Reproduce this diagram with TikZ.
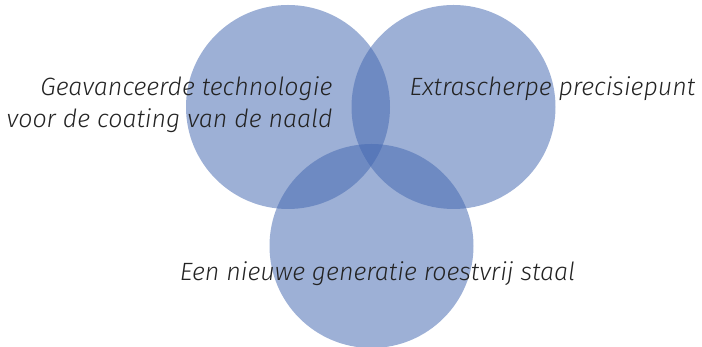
\documentclass[tikz,border=0pt]{standalone}
\usepackage{fontspec}
\setmainfont{Fira Sans}[UprightFont=* Light, ItalicFont=* Light Italic]
\usepackage{tikz}
\definecolor{venn}{RGB}{67,103,176}
\definecolor{ink}{RGB}{35,35,35}

\begin{document}
\begin{tikzpicture}[x=1pt, y=1pt,
  main/.style = {circle, fill=venn, fill opacity=0.52, minimum size=204pt, inner sep=0pt},
  label/.style = {text=ink, font=\fontsize{25}{32}\selectfont\itshape}]
  \useasboundingbox (0,0) rectangle (702,347);
  \node[main] (1) at (288,240) {};
  \node[main] (2) at (453.5,240) {};
  \node[main] (3) at (371.5,101) {};
  \node[label, align=right, anchor=east] (a) at (336,242) {Geavanceerde technologie\\voor de coating van de naald};
  \node[label, anchor=west] (b) at (406,258) {Extrascherpe precisiepunt};
  \node[label] (c) at (377.5,73) {Een nieuwe generatie roestvrij staal};
\end{tikzpicture}
\end{document}
